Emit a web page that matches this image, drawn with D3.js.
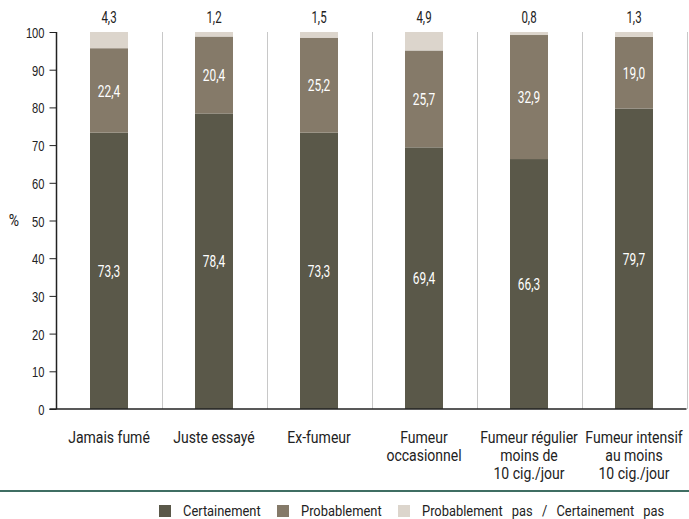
<!DOCTYPE html>
<html>
<head>
<meta charset="utf-8">
<script src="https://cdn.jsdelivr.net/npm/d3@7"></script>
<style>
  html, body { margin: 0; padding: 0; background: #fff; }
  svg { display: block; font-family: Roboto, "Liberation Sans", sans-serif; font-weight: 400; }
</style>
</head>
<body>
<svg id="chart" width="689" height="519"></svg>
<script>
// Categories (multi-line labels)
const categories = [
  ["Jamais fumé"],
  ["Juste essayé"],
  ["Ex-fumeur"],
  ["Fumeur", "occasionnel"],
  ["Fumeur régulier", "moins de", "10 cig./jour"],
  ["Fumeur intensif", "au moins", "10 cig./jour"]
];
const seriesNames = ["Certainement", "Probablement", "Probablement pas / Certainement pas"];
const certainement = [73.3, 78.4, 73.3, 69.4, 66.3, 79.7];
const probablement = [22.4, 20.4, 25.2, 25.7, 32.9, 19.0];
const probablementPas = [4.3, 1.2, 1.5, 4.9, 0.8, 1.3];
const yTicks = [0, 10, 20, 30, 40, 50, 60, 70, 80, 90, 100];
const colors = ["#5a5849", "#857a69", "#dcd5cc"];

const fmt = v => d3.format(".1f")(v).replace(".", ",");

// Condensed look: draw text horizontally squeezed around its anchor point
function squeeze(sel, fx, fy, sx) {
  sel.attr("transform", (d, i) => `translate(${fx(d, i)},${fy(d, i)}) scale(${sx},1)`)
     .attr("x", 0).attr("y", 0);
}

const svg = d3.select("#chart");
const margin = { left: 56.5, right: 2.5, top: 32 };
const W = 689;

const x = d3.scaleBand()
  .domain(d3.range(categories.length))
  .range([margin.left, W - margin.right])
  .paddingInner(0)
  .paddingOuter(0);
const barW = 38;
const cx = i => x(i) + x.bandwidth() / 2;

const y = d3.scaleLinear().domain([0, 100]).range([409, margin.top]);

// Vertical separators between categories
svg.append("g").selectAll("line")
  .data(d3.range(1, categories.length + 1))
  .join("line")
  .attr("x1", i => Math.round(margin.left + i * x.step()) + 0.5)
  .attr("x2", i => Math.round(margin.left + i * x.step()) + 0.5)
  .attr("y1", y(100))
  .attr("y2", y(0))
  .attr("stroke", "#c8c8c8")
  .attr("stroke-width", 1);

// Stacked data
const rows = categories.map((c, i) => ({
  i,
  v: [certainement[i], probablement[i], probablementPas[i]]
}));
const stack = d3.stack().keys([0, 1, 2]).value((d, k) => d.v[k]);
const stacked = stack(rows);

const bars = svg.append("g");
stacked.forEach((layer, k) => {
  bars.append("g").attr("fill", colors[k])
    .selectAll("rect")
    .data(layer)
    .join("rect")
    .attr("x", d => cx(d.data.i) - barW / 2)
    .attr("width", barW)
    .attr("y", d => y(d[1]))
    .attr("height", d => y(d[0]) - y(d[1]));
});

// Inner value labels (first two series)
[0, 1].forEach(k => {
  svg.append("g").selectAll("text")
    .data(stacked[k])
    .join("text")
    .attr("dy", "0.36em")
    .attr("text-anchor", "middle")
    .attr("fill", "#ffffff")
    .attr("font-size", 17)
    .text(d => fmt(d.data.v[k]))
    .call(squeeze, d => cx(d.data.i), d => y((d[0] + d[1]) / 2), 0.7);
});

// Top labels for the third series
svg.append("g").selectAll("text")
  .data(stacked[2])
  .join("text")
  .attr("text-anchor", "middle")
  .attr("fill", "#222")
  .attr("font-size", 16)
  .text(d => fmt(d.data.v[2]))
  .call(squeeze, d => cx(d.data.i), () => 23, 0.72);

// Y axis
const yAxis = svg.append("g")
  .attr("transform", `translate(${margin.left},0)`)
  .call(d3.axisLeft(y).tickValues(yTicks).tickSize(7).tickPadding(5).tickFormat(d3.format("d")));
yAxis.select(".domain").attr("stroke", "#222").attr("stroke-width", 1.5).attr("d", `M0,${y(100)}H0V${y(0)}`);
yAxis.selectAll(".tick line").attr("stroke", "#222");
yAxis.selectAll(".tick text")
  .attr("font-size", 15.5).attr("fill", "#222").attr("font-family", "inherit")
  .attr("dy", "0.36em")
  .call(squeeze, () => -12, () => 0, 0.72);

// X axis baseline
svg.append("line")
  .attr("x1", margin.left - 7).attr("x2", W - margin.right)
  .attr("y1", y(0)).attr("y2", y(0))
  .attr("stroke", "#222").attr("stroke-width", 1.5);

// % label
svg.append("text")
  .attr("dy", "0.36em")
  .attr("text-anchor", "middle").attr("font-size", 16.5).attr("fill", "#222")
  .text("%")
  .call(squeeze, () => 14, () => y(50), 0.85);

// Category labels
const catG = svg.append("g").selectAll("text")
  .data(categories)
  .join("text")
  .attr("text-anchor", "middle")
  .attr("font-size", 16.5)
  .attr("fill", "#222")
  .call(squeeze, (d, i) => cx(i), () => 443, 0.85);
catG.selectAll("tspan")
  .data(d => d)
  .join("tspan")
  .attr("x", 0)
  .attr("dy", (d, j) => j === 0 ? 0 : 18)
  .text(d => d);

// Separator rule above legend
svg.append("line")
  .attr("x1", 0).attr("x2", W)
  .attr("y1", 491).attr("y2", 491)
  .attr("stroke", "#3f6e63").attr("stroke-width", 2);

// Legend
const legendX = [159, 277, 398];
const leg = svg.append("g").selectAll("g")
  .data(seriesNames)
  .join("g")
  .attr("transform", (d, i) => `translate(${legendX[i]},505)`);
leg.append("rect").attr("width", 12).attr("height", 12).attr("fill", (d, i) => colors[i]);
leg.append("text").attr("font-size", 15).attr("fill", "#222")
  .attr("word-spacing", 7)
  .text(d => d)
  .call(squeeze, () => 24, () => 11, 0.86);
</script>
</body>
</html>
